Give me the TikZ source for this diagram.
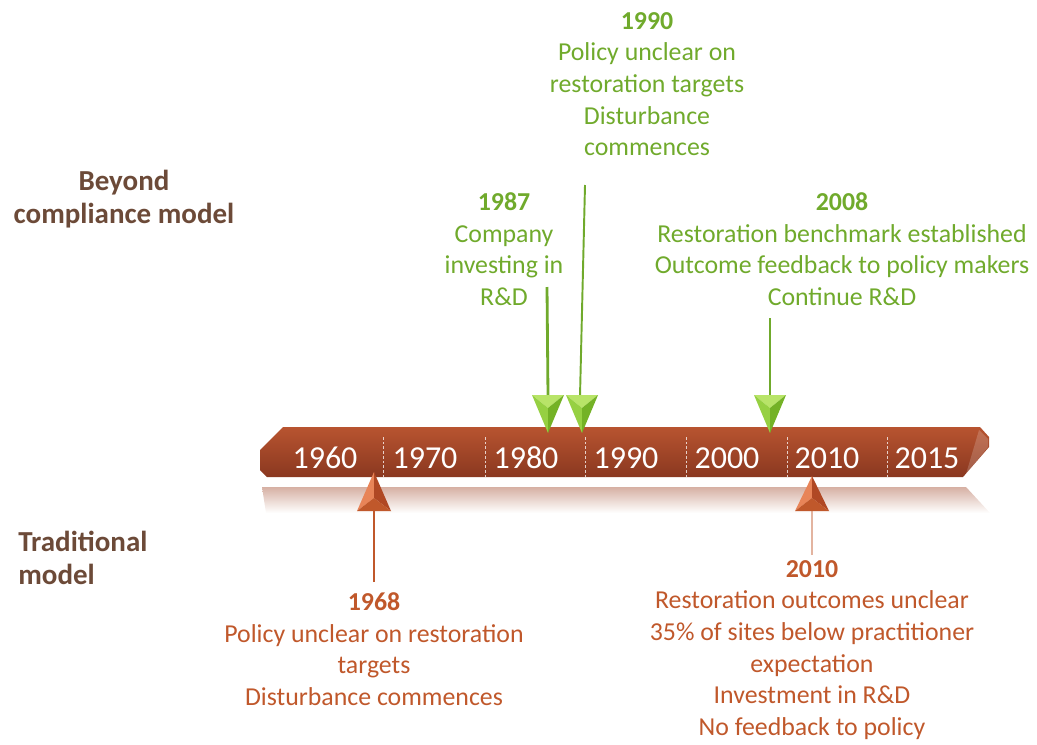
\documentclass[tikz,border=0pt]{standalone}
\usepackage{fontspec}
\setmainfont{Carlito}
\usetikzlibrary{arrows.meta}

\definecolor{leafgreen}{RGB}{112,170,44}
\definecolor{limelight}{RGB}{184,228,104}
\definecolor{limemid}{RGB}{150,208,66}
\definecolor{limedark}{RGB}{116,178,38}
\definecolor{rust}{RGB}{192,88,43}
\definecolor{rustlight}{RGB}{232,132,88}
\definecolor{rustdark}{RGB}{176,72,36}
\definecolor{barhi}{RGB}{184,84,48}
\definecolor{barlo}{RGB}{138,56,32}
\definecolor{mirror}{RGB}{214,176,163}
\definecolor{bark}{RGB}{108,74,56}

% pins: green ones point down onto the bar, rust ones point up at it
\newcommand{\greenpin}[1]{%
  \fill[limelight] (#1-16,395) -- (#1+16,395) -- (#1,408) -- cycle;
  \fill[limemid] (#1-16,395) -- (#1,408) -- (#1,433) -- cycle;
  \fill[limedark] (#1+16,395) -- (#1,408) -- (#1,433) -- cycle;
}
\newcommand{\rustpin}[2]{%
  \fill[rustlight] (#1,#2) -- (#1,498) -- (#1-17,511) -- cycle;
  \fill[rustdark] (#1,#2) -- (#1,498) -- (#1+17,511) -- cycle;
  \fill[rust] (#1-17,511) -- (#1,498) -- (#1+17,511) -- cycle;
}

\tikzset{
  note/.style={align=center, inner sep=0pt, font=\fontsize{14.7}{18}\selectfont},
  heading/.style={inner sep=0pt, text=bark, font=\fontsize{16.5}{18.7}\selectfont\bfseries},
  yearlabel/.style={inner sep=0pt, text=white, font=\fontsize{18.2}{20}\selectfont},
  stem/.style={line width=1.6pt}
}

\begin{document}
\begin{tikzpicture}[x=0.02cm, y=-0.02cm]
  \useasboundingbox (0,0) rectangle (1037,744);

  % model headings
  \node[heading, align=center] (beyond) at (124,199) {Beyond\\compliance model};
  \node[heading, align=left, anchor=west] (traditional) at (18,558) {Traditional\\model};

  % the bar, its reflection and the decade marks
  \shade[top color=mirror, bottom color=white]
    (262,487) -- (966,487) -- (990,513) -- (266,513) -- cycle;
  \shade[top color=barhi, bottom color=barlo]
    (283,427) -- (980,427) -- (989,437) -- (989,447) -- (963,477)
    -- (267,477) -- (260,470) -- (260,450) -- cycle;
  \fill[white, opacity=0.18] (979,430) -- (988,439) -- (988,447) -- (966,474) -- cycle;
  \foreach \x in {383,485,585,686,787,887}
    \draw[white, opacity=0.75, line width=0.5pt, dash pattern=on 1.5pt off 1.2pt]
      (\x,437) -- (\x,477);
  \foreach \yr/\x in {1960/325, 1970/425, 1980/526, 1990/626, 2000/727, 2010/827, 2015/927}
    \node[yearlabel] (yr\yr) at (\x,458) {\yr};

  % beyond compliance events
  \node[note, text=leafgreen] (ev1990) at (647,84)
    {\textbf{1990}\\Policy unclear on\\restoration targets\\Disturbance\\commences};
  \node[note, text=leafgreen] (ev1987) at (504,249)
    {\textbf{1987}\\Company\\investing in\\R\&D};
  \node[note, text=leafgreen] (ev2008) at (842,249)
    {\textbf{2008}\\Restoration benchmark established\\Outcome feedback to policy makers\\Continue R\&D};

  \coordinate (s1987) at (547,287);
  \coordinate (p1987) at (548,396);
  \coordinate (s1990) at (585,185);
  \coordinate (p1990) at (580,396);
  \coordinate (s2008) at (770,318);
  \coordinate (p2008) at (770,396);
  \draw[stem, leafgreen] (s1987) -- (p1987);
  \draw[leafgreen, line width=1.1pt] (s1990) -- (p1990);
  \draw[stem, leafgreen] (s2008) -- (p2008);
  \greenpin{548}
  \greenpin{582}
  \greenpin{770}

  % traditional events
  \node[note, text=rust] (ev1968) at (374,649)
    {\textbf{1968}\\Policy unclear on restoration\\targets\\Disturbance commences};
  \node[note, text=rust] (ev2010) at (812,650)
    {\textbf{2010}\\Restoration outcomes unclear\\35\% of sites below practitioner\\expectation\\Investment in R\&D\\No feedback to policy};

  \coordinate (p1968) at (374,510);
  \coordinate (s1968) at (374,582);
  \coordinate (p2010) at (812,510);
  \coordinate (s2010) at (812,555);
  \draw[stem, rust] (s1968) -- (p1968);
  \draw[rust!45, line width=1.4pt] (s2010) -- (p2010);
  \rustpin{374}{472}
  \rustpin{812}{476}
\end{tikzpicture}
\end{document}
